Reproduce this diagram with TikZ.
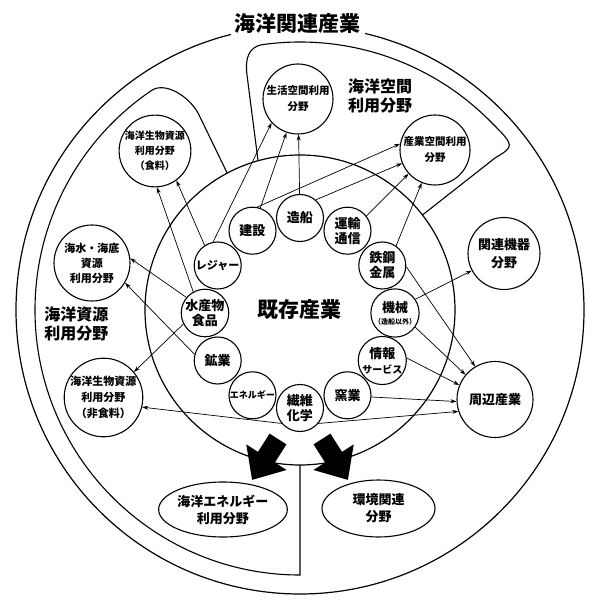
\documentclass[tikz,border=0pt]{standalone}
\usepackage{fontspec}
\setmainfont{Noto Sans CJK JP}
\usetikzlibrary{arrows.meta,shapes.geometric}

\begin{document}
\begin{tikzpicture}[
  x=1pt, y=1pt,
  ind/.style={circle, draw=black, line width=1.1pt, minimum size=47pt, inner sep=0pt,
              align=center, fill=white, font=\fontsize{13}{15}\selectfont\bfseries},
  field/.style={circle, draw=black, line width=1.1pt, inner sep=0pt, align=center,
                fill=white, font=\fontsize{10.5}{16}\selectfont\bfseries},
  oval/.style={ellipse, draw=black, line width=1.1pt, inner sep=0pt, align=center,
               minimum width=116pt, minimum height=55pt, font=\fontsize{13}{17}\selectfont\bfseries},
  area/.style={draw=black, line width=1.1pt},
  lbl/.style={font=\fontsize{16}{19}\selectfont\bfseries, align=left, inner sep=0pt},
  link/.style={draw=black, line width=0.7pt, -{Stealth[length=6pt, width=4pt]}},
  bigarrow/.style={draw=black, line width=20pt, -{Triangle[length=27pt, width=46pt]}}
]
\fill[white] (-300,-300) rectangle (300,310);

\draw[line width=1.2pt] (0,0) circle[radius=284];
\node[fill=white, inner sep=4pt, font=\fontsize{21}{21}\selectfont\bfseries] (title) at (-2,286) {海洋関連産業};

\draw[area] (0,-155) -- (0,-265) arc[start angle=-90, end angle=-236, radius=265]
  .. controls (-134,229) and (-108,212) .. (-100,193) -- (118:155);
\draw[area] (105.7:155) -- (-53,235) .. controls (-55,250) and (-52.2,263.3) .. (98:268)
  arc[start angle=98, end angle=45, radius=268] .. controls (215,164) .. (195,152) -- (37.8:155);

\node[circle, draw=black, line width=1.2pt, minimum size=310pt, inner sep=0pt,
      font=\fontsize{21}{21}\selectfont\bfseries] (core) at (0,0) {既存産業};

\node[lbl] (space) at (80,214.5) {海洋空間\\利用分野};
\node[lbl] (resource) at (-223.5,-14) {海洋資源\\利用分野};

\node[ind] (ship)     at (0,92)        {造船};
\node[ind] (kensetsu) at (-47.5,79.3)  {建設};
\node[ind, font=\fontsize{11}{13}\selectfont\bfseries] (leisure) at (-82.3,44.5) {レジャー};
\node[ind] (suisan)   at (-95,-3)      {水産物\\食品};
\node[ind] (kogyo)    at (-82.3,-50.5) {鉱業};
\node[ind, font=\fontsize{9}{11}\selectfont\bfseries] (energy) at (-47.5,-85.3) {エネルギー};
\node[ind] (seni)     at (0,-98)       {繊維\\化学};
\node[ind] (yogyo)    at (47.5,-85.3)  {窯業};
\node[ind] (joho)     at (82.3,-50.5)  {情報\\{\fontsize{10}{12}\selectfont サービス}};
\node[ind] (kikai)    at (95,-3)       {機械\\[-3pt]{\fontsize{7}{8}\selectfont （造船以外）}};
\node[ind] (tekko)    at (82.3,44.5)   {鉄鋼\\金属};
\node[ind] (unyu)     at (47.5,79.3)   {運輸\\通信};

\node[field, minimum size=70pt] (seikatsu) at (-2,211) {生活空間利用\\分野};
\node[field, minimum size=70pt] (sangyo) at (135,160) {産業空間利用\\分野};
\node[field, minimum size=68pt, font=\fontsize{10}{15}\selectfont\bfseries] (shokuryo) at (-145,159) {海洋生物資源\\利用分野\\（食料）};
\node[field, minimum size=76pt, font=\fontsize{11}{15}\selectfont\bfseries] (kaisui) at (-208,47) {海水・海底\\資源\\利用分野};
\node[field, minimum size=77pt, font=\fontsize{11}{16}\selectfont\bfseries] (hishoku) at (-196.5,-87.5) {海洋生物資源\\利用分野\\（非食料）};
\node[field, minimum size=72pt, font=\fontsize{13}{18}\selectfont\bfseries] (kanren) at (204,56.5) {関連機器\\分野};
\node[field, minimum size=76pt, font=\fontsize{13}{15}\selectfont\bfseries] (shuhen) at (195,-89.5) {周辺産業};
\node[oval] (ocean) at (-77,-199.5) {海洋エネルギー\\利用分野};
\node[oval, minimum width=113pt, minimum height=57pt] (env) at (78.5,-198.5) {環境関連\\分野};

\draw[link] (ship) -- (seikatsu);
\draw[link] (kensetsu) -- (seikatsu);
\draw[link] (leisure.101) -- (seikatsu.222);
\draw[link] (kensetsu.79) -- (sangyo.170);
\draw[link] (ship.49) -- (sangyo.202);
\draw[link] (unyu.38) -- (sangyo.222);
\draw[link] (tekko.55) -- (sangyo.248);
\draw[link] (leisure.123) -- (shokuryo.-54);
\draw[link] (suisan.119) -- (shokuryo.-87);
\draw[link] (suisan.140) -- (kaisui.7);
\draw[link] (kogyo.165) -- (kaisui.-31);
\draw[link] (suisan.207) -- (hishoku.40);
\draw[link] (seni.220) -- (hishoku.-14);
\draw[link] (seni.-40) -- (shuhen.198);
\draw[link] (yogyo.-4) -- (shuhen.183);
\draw[link] (joho.6) -- (shuhen.158);
\draw[link] (kikai.-35) -- (shuhen.140);
\draw[link] (tekko.-3) -- (shuhen.121);
\draw[link] (kikai.34) -- (kanren.208);

\coordinate (ltail) at (-22,-129);
\coordinate (ltip)  at (-48,-170);
\coordinate (rtail) at (22,-129);
\coordinate (rtip)  at (48,-170);
\draw[bigarrow] (ltail) -- (ltip);
\draw[bigarrow] (rtail) -- (rtip);
\end{tikzpicture}
\end{document}
